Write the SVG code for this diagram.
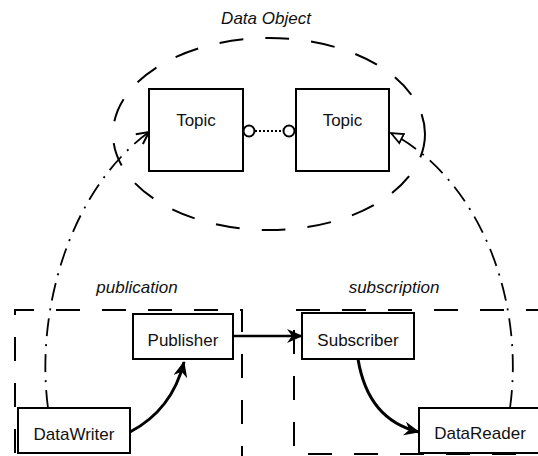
<svg xmlns="http://www.w3.org/2000/svg" width="538" height="456" viewBox="0 0 538 456">
<style>
.box{fill:#fff;stroke:#000;stroke-width:2}
.lbl{font-family:"Liberation Sans",Arial,sans-serif;font-size:17px;fill:#111;text-anchor:middle}
.it{font-style:italic}
.dash{fill:none;stroke:#000;stroke-width:2;stroke-dasharray:24 22}
.dd{fill:none;stroke:#000;stroke-width:1.8;stroke-dasharray:18 8 2 8}
.solid{fill:none;stroke:#000;stroke-width:3}
</style>
<defs>
<marker id="stealth" viewBox="0 0 16 14" refX="15" refY="7" markerWidth="16" markerHeight="14" markerUnits="userSpaceOnUse" orient="auto">
<path d="M0,0 L16,7 L0,14 L5,7 Z" fill="#000"/>
</marker>
<marker id="vopen" viewBox="0 0 14 14" refX="13" refY="7" markerWidth="14" markerHeight="14" markerUnits="userSpaceOnUse" orient="auto">
<path d="M1,1 L13,7 L1,13" fill="none" stroke="#000" stroke-width="2"/>
</marker>
<marker id="tri" viewBox="0 0 14 14" refX="13" refY="7" markerWidth="14" markerHeight="14" markerUnits="userSpaceOnUse" orient="auto">
<path d="M1,2 L13,7 L1,12 Z" fill="#fff" stroke="#000" stroke-width="1.8"/>
</marker>
</defs>
<rect width="538" height="456" fill="#fff"/>
<g id="groups">
<ellipse class="dash" cx="269" cy="134" rx="156" ry="96"/>
<text class="lbl it" x="266" y="24">Data Object</text>
<path class="dash" d="M242,470 L242,310 L15,310 L15,470"/>
<text class="lbl it" x="137" y="293">publication</text>
<path class="dash" d="M550,310 L294,310 L294,454 L550,454"/>
<text class="lbl it" x="394" y="293">subscription</text>
</g>
<g id="connectors">
<line x1="255" y1="131" x2="283" y2="131" stroke="#000" stroke-width="2" stroke-dasharray="2 2"/>
<circle cx="249" cy="131" r="5.5" fill="#fff" stroke="#000" stroke-width="2"/>
<circle cx="289" cy="131" r="5.5" fill="#fff" stroke="#000" stroke-width="2"/>
<line x1="233" y1="336" x2="302" y2="336" stroke="#000" stroke-width="2.5" marker-end="url(#stealth)"/>
<path class="solid" d="M130,432 Q172,410 184,362" marker-end="url(#stealth)"/>
<path class="solid" d="M358,359 Q368,420 419,432" marker-end="url(#stealth)"/>
<path class="dd" d="M48,408 C35,310 70,190 149,132" marker-end="url(#vopen)"/>
<path class="dd" d="M510,408 C525,300 480,180 391,133" marker-end="url(#tri)"/>
</g>
<g id="topic1"><rect class="box" x="149" y="89" width="94" height="82"/><text class="lbl" x="196" y="126">Topic</text></g>
<g id="topic2"><rect class="box" x="296" y="89" width="93" height="82"/><text class="lbl" x="342.5" y="126">Topic</text></g>
<g id="publisher"><rect class="box" x="133" y="314" width="100" height="45"/><text class="lbl" x="183" y="346">Publisher</text></g>
<g id="subscriber"><rect class="box" x="302" y="313" width="112" height="46"/><text class="lbl" x="358" y="346">Subscriber</text></g>
<g id="datawriter"><rect class="box" x="18" y="408" width="112" height="45"/><text class="lbl" x="74" y="440">DataWriter</text></g>
<g id="datareader"><rect class="box" x="419" y="408" width="122" height="45"/><text class="lbl" x="480" y="439">DataReader</text></g>
</svg>
